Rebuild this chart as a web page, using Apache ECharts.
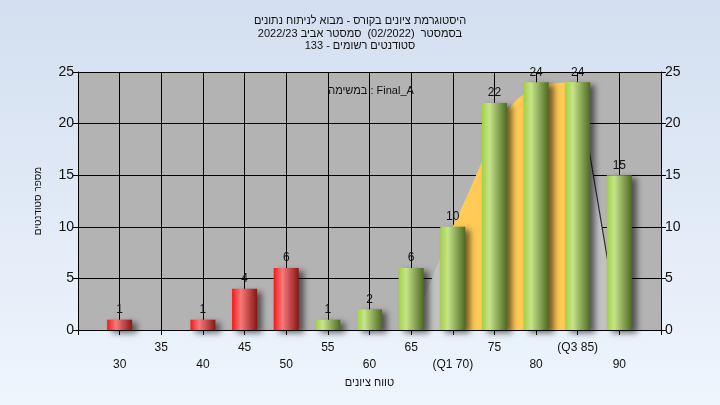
<!DOCTYPE html>
<html><head><meta charset="utf-8">
<script src="https://cdn.jsdelivr.net/npm/echarts@6/dist/echarts.min.js"></script>
<style>html,body{margin:0;padding:0;}#c{width:720px;height:405px;}</style>
</head><body><div id="c"></div>
<script>
const categories = [30,35,40,45,50,55,60,65,70,75,80,85,90];
const counts = [1,0,1,4,6,1,2,6,10,22,24,24,15];
const tickLabels = ['30','35','40','45','50','55','60','65','(Q1 70)','75','80','(Q3 85)','90'];
const passMark = 55;
const iqrCurveX = [70,72,75,77.5,80,82.5,85];
const iqrCurveY = [10,13.5,19,22.2,23.4,23.9,24];
const lowTailX = [65,70];
const lowTailY = [0,10];
const highTailX = [85,90];
const highTailY = [24,0];
const titleLines = ['היסטוגרמת ציונים בקורס - מבוא לניתוח נתונים','בסמסטר  (02/2022)  סמסטר אביב 2022/23','סטודנטים רשומים - 133'];
const taskLabel = 'במשימה : Final_A';
const xName = 'טווח ציונים';
const yName = 'מספר סטודנטים';

const FONT = '"Liberation Sans","DejaVu Sans",sans-serif';

const redGrad = new echarts.graphic.LinearGradient(0,0,1,0,[
  {offset:0,color:'#f41818'},{offset:0.35,color:'#f87a7a'},{offset:1,color:'#881515'}]);
const greenGrad = new echarts.graphic.LinearGradient(0,0,1,0,[
  {offset:0,color:'#a2d040'},{offset:0.3,color:'#c6e48a'},{offset:1,color:'#4d6a22'}]);

const barData = categories.map((c,i)=>({value:[c,counts[i]], itemStyle:{color: c < passMark ? redGrad : greenGrad}}));
const grayData = lowTailX.map((x,i)=>[x,lowTailY[i]])
  .concat(iqrCurveX.map((x,i)=>[x,iqrCurveY[i]]))
  .concat(highTailX.map((x,i)=>[x,highTailY[i]]));
const orangeData = iqrCurveX.map((x,i)=>[x,iqrCurveY[i]]);
const tailLine = highTailX.map((x,i)=>[x,highTailY[i]]);

const labelMap = {};
categories.forEach((c,i)=>{ labelMap[c]=tickLabels[i]; });

const yAxisCommon = {
  type:'value', min:0, max:25, interval:5,
  axisLine:{show:true,lineStyle:{color:'#000'}},
  axisTick:{show:true,length:5,lineStyle:{color:'#000'}},
  axisLabel:{color:'#111',fontSize:14,fontFamily:FONT,margin:4},
  splitLine:{show:true,lineStyle:{color:'#000',width:1}}
};

const chart = echarts.init(document.getElementById('c'));
chart.setOption({
  backgroundColor: new echarts.graphic.LinearGradient(0,0,0,1,[{offset:0,color:'#d3dff0'},{offset:1,color:'#eef5fd'}]),
  animation:false,
  title:[{
    text: titleLines.join('\n'),
    left:'center', top:10,
    textStyle:{fontSize:11,fontWeight:'normal',color:'#111',fontFamily:FONT,lineHeight:12.5}
  },{
    text: taskLabel, left:366, top:80, textAlign:'center',
    textStyle:{fontSize:11,fontWeight:'normal',color:'#111',fontFamily:FONT}
  }],
  grid:{left:78,right:59,top:72,bottom:75,show:true,backgroundColor:'#b3b3b3',borderWidth:0},
  xAxis:{
    type:'value', min:25, max:95, interval:5,
    name: xName, nameLocation:'middle', nameGap:43,
    nameTextStyle:{fontSize:11,color:'#111',fontFamily:FONT},
    axisLine:{show:true,onZero:false,lineStyle:{color:'#000'}},
    axisTick:{show:true,length:5,lineStyle:{color:'#000'}},
    splitLine:{show:true,lineStyle:{color:'#000',width:1}},
    axisLabel:{
      color:'#111',fontSize:12,fontFamily:FONT,margin:9,lineHeight:17,showMinLabel:true,showMaxLabel:true,
      formatter:function(v){
        const t = labelMap[v];
        if(t===undefined) return '';
        const idx = categories.indexOf(v);
        return idx % 2 === 0 ? '\n' + t : t;
      }
    }
  },
  yAxis:[
    Object.assign({}, yAxisCommon, {position:'left', name: yName, nameLocation:'middle', nameGap:35, nameRotate:90,
      nameTextStyle:{fontSize:10,color:'#111',fontFamily:FONT}}),
    Object.assign({}, yAxisCommon, {position:'right', splitLine:{show:false}})
  ],
  series:[
    {type:'line', data:grayData, symbol:'none', lineStyle:{width:0}, areaStyle:{color:'#c2c2c2',opacity:1}, z:1, silent:true},
    {type:'line', data:orangeData, symbol:'none', smooth:0.3, lineStyle:{width:0}, areaStyle:{color:'#ffca55',opacity:1}, z:2, silent:true},
    {type:'line', data:tailLine, symbol:'none', lineStyle:{width:1.2,color:'#2a2a2a'}, z:2, silent:true},
    {type:'bar', data:barData, barWidth:25, z:5,
      itemStyle:{shadowColor:'rgba(0,0,0,0.55)',shadowBlur:6,shadowOffsetX:5,shadowOffsetY:3},
      label:{show:true,position:'top',distance:4,color:'#111',fontSize:12,fontFamily:FONT,
        formatter:function(p){ return p.value[1] ? String(p.value[1]) : ''; }}
    }
  ]
});
</script></body></html>
